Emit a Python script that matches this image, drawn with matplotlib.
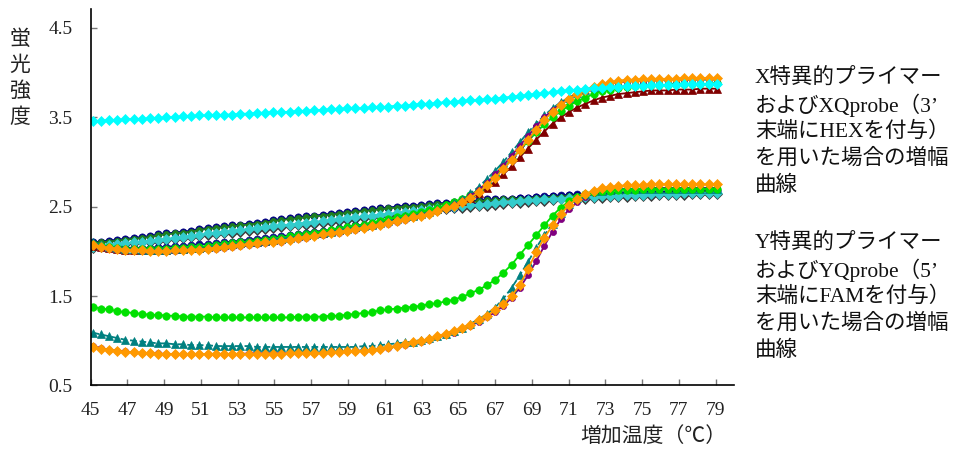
import numpy as np
import matplotlib
matplotlib.use("Agg")
import matplotlib.pyplot as plt

plt.rcParams['font.family'] = ['Liberation Serif', 'Noto Sans CJK JP', 'DejaVu Sans']

# temperature grid (77 readings)
temps = np.round(45.10 + 0.447 * np.arange(77), 2)

# ---- HEX channel (X probe) ----
hex_orange = [2.07, 2.05, 2.04, 2.03, 2.02, 2.01, 2.01, 2.00, 2.00, 2.00,
              2.01, 2.01, 2.02, 2.02, 2.03, 2.04, 2.05, 2.06, 2.07, 2.08,
              2.09, 2.10, 2.11, 2.12, 2.13, 2.15, 2.16, 2.17, 2.19, 2.20,
              2.22, 2.23, 2.25, 2.26, 2.28, 2.30, 2.32, 2.34, 2.36, 2.38,
              2.40, 2.42, 2.45, 2.48, 2.51, 2.55, 2.60, 2.66, 2.74, 2.82,
              2.92, 3.02, 3.13, 3.25, 3.36, 3.47, 3.56, 3.64, 3.71, 3.76,
              3.80, 3.84, 3.87, 3.89, 3.91, 3.92, 3.92, 3.93, 3.93, 3.93,
              3.93, 3.93, 3.94, 3.94, 3.94, 3.94, 3.94]
hex_teal = [2.10, 2.07, 2.05, 2.04, 2.03, 2.03, 2.02, 2.02, 2.02, 2.02,
            2.03, 2.03, 2.04, 2.04, 2.05, 2.06, 2.07, 2.08, 2.09, 2.10,
            2.11, 2.12, 2.13, 2.14, 2.15, 2.17, 2.18, 2.19, 2.21, 2.22,
            2.24, 2.25, 2.27, 2.28, 2.30, 2.32, 2.34, 2.36, 2.38, 2.40,
            2.42, 2.44, 2.47, 2.50, 2.54, 2.59, 2.65, 2.72, 2.81, 2.90,
            3.00, 3.11, 3.22, 3.33, 3.43, 3.52, 3.60, 3.67, 3.72, 3.77,
            3.81, 3.84, 3.86, 3.88, 3.89, 3.90, 3.90, 3.91, 3.91, 3.91,
            3.91, 3.92, 3.92, 3.92, 3.92, 3.92, 3.92]
hex_purple = [2.06, 2.04, 2.03, 2.02, 2.01, 2.01, 2.00, 2.00, 2.00, 2.00,
              2.00, 2.01, 2.01, 2.02, 2.03, 2.03, 2.04, 2.05, 2.06, 2.07,
              2.08, 2.09, 2.10, 2.11, 2.13, 2.14, 2.15, 2.17, 2.18, 2.20,
              2.21, 2.23, 2.24, 2.26, 2.28, 2.30, 2.31, 2.33, 2.35, 2.38,
              2.40, 2.42, 2.45, 2.48, 2.52, 2.56, 2.62, 2.69, 2.77, 2.86,
              2.96, 3.07, 3.18, 3.29, 3.40, 3.50, 3.58, 3.65, 3.71, 3.76,
              3.80, 3.83, 3.86, 3.88, 3.89, 3.90, 3.91, 3.91, 3.92, 3.92,
              3.92, 3.92, 3.92, 3.93, 3.93, 3.93, 3.93]
hex_lime = [2.08, 2.06, 2.05, 2.04, 2.03, 2.03, 2.03, 2.03, 2.03, 2.03,
            2.04, 2.04, 2.05, 2.05, 2.06, 2.07, 2.08, 2.09, 2.10, 2.11,
            2.12, 2.13, 2.14, 2.15, 2.17, 2.18, 2.19, 2.21, 2.22, 2.24,
            2.25, 2.27, 2.28, 2.30, 2.32, 2.34, 2.36, 2.38, 2.40, 2.42,
            2.44, 2.46, 2.49, 2.52, 2.55, 2.59, 2.63, 2.69, 2.76, 2.84,
            2.93, 3.03, 3.13, 3.23, 3.33, 3.42, 3.50, 3.57, 3.63, 3.68,
            3.72, 3.76, 3.79, 3.81, 3.83, 3.84, 3.85, 3.85, 3.86, 3.86,
            3.86, 3.87, 3.87, 3.87, 3.87, 3.87, 3.88]
hex_darkred = [2.06, 2.05, 2.04, 2.03, 2.02, 2.02, 2.02, 2.02, 2.02, 2.02,
               2.03, 2.03, 2.04, 2.04, 2.05, 2.06, 2.07, 2.08, 2.09, 2.10,
               2.11, 2.12, 2.13, 2.14, 2.16, 2.17, 2.18, 2.20, 2.21, 2.23,
               2.24, 2.26, 2.27, 2.29, 2.31, 2.33, 2.35, 2.37, 2.39, 2.41,
               2.43, 2.45, 2.47, 2.50, 2.53, 2.56, 2.60, 2.65, 2.71, 2.78,
               2.86, 2.95, 3.05, 3.15, 3.25, 3.34, 3.43, 3.50, 3.56, 3.61,
               3.65, 3.69, 3.72, 3.74, 3.76, 3.77, 3.78, 3.79, 3.80, 3.80,
               3.80, 3.81, 3.81, 3.81, 3.82, 3.82, 3.82]
hex_cyan = [3.46, 3.46, 3.47, 3.47, 3.48, 3.48, 3.48, 3.49, 3.49, 3.50,
            3.50, 3.51, 3.51, 3.52, 3.52, 3.52, 3.53, 3.53, 3.54, 3.54,
            3.55, 3.55, 3.56, 3.56, 3.56, 3.57, 3.57, 3.58, 3.58, 3.59,
            3.59, 3.60, 3.60, 3.60, 3.61, 3.61, 3.62, 3.63, 3.63, 3.64,
            3.65, 3.65, 3.66, 3.67, 3.67, 3.68, 3.69, 3.69, 3.70, 3.71,
            3.72, 3.73, 3.74, 3.75, 3.76, 3.77, 3.78, 3.79, 3.80, 3.81,
            3.82, 3.83, 3.83, 3.84, 3.84, 3.85, 3.85, 3.85, 3.86, 3.86,
            3.86, 3.86, 3.87, 3.87, 3.87, 3.87, 3.87]

# ---- FAM channel (Y probe) ----
fam_navy = [2.10, 2.11, 2.12, 2.13, 2.14, 2.15, 2.16, 2.17, 2.19, 2.20,
            2.21, 2.22, 2.23, 2.25, 2.26, 2.27, 2.28, 2.29, 2.30, 2.31,
            2.32, 2.33, 2.35, 2.36, 2.37, 2.38, 2.39, 2.40, 2.41, 2.42,
            2.43, 2.44, 2.45, 2.46, 2.47, 2.48, 2.49, 2.50, 2.51, 2.51,
            2.52, 2.53, 2.54, 2.54, 2.55, 2.56, 2.56, 2.57, 2.58, 2.58,
            2.59, 2.59, 2.60, 2.60, 2.61, 2.61, 2.62, 2.62, 2.63, 2.63,
            2.63, 2.64, 2.64, 2.64, 2.65, 2.65, 2.65, 2.66, 2.66, 2.66,
            2.66, 2.67, 2.67, 2.67, 2.67, 2.68, 2.68]
fam_dgreen = [2.09, 2.10, 2.11, 2.12, 2.13, 2.14, 2.15, 2.16, 2.18, 2.19,
              2.20, 2.21, 2.22, 2.24, 2.25, 2.26, 2.27, 2.28, 2.29, 2.30,
              2.31, 2.32, 2.34, 2.35, 2.36, 2.37, 2.38, 2.39, 2.40, 2.41,
              2.42, 2.43, 2.44, 2.45, 2.46, 2.47, 2.48, 2.49, 2.50, 2.50,
              2.51, 2.52, 2.53, 2.53, 2.54, 2.55, 2.55, 2.56, 2.57, 2.57,
              2.58, 2.58, 2.59, 2.59, 2.60, 2.60, 2.61, 2.61, 2.62, 2.62,
              2.62, 2.63, 2.63, 2.63, 2.64, 2.64, 2.64, 2.65, 2.65, 2.65,
              2.65, 2.66, 2.66, 2.66, 2.66, 2.67, 2.67]
fam_mturq = [2.05, 2.06, 2.07, 2.08, 2.09, 2.10, 2.11, 2.12, 2.13, 2.14,
             2.15, 2.16, 2.17, 2.18, 2.20, 2.21, 2.22, 2.23, 2.24, 2.25,
             2.26, 2.27, 2.28, 2.29, 2.30, 2.31, 2.32, 2.33, 2.34, 2.35,
             2.36, 2.37, 2.38, 2.39, 2.40, 2.41, 2.42, 2.43, 2.44, 2.45,
             2.46, 2.47, 2.48, 2.49, 2.50, 2.51, 2.52, 2.52, 2.53, 2.54,
             2.55, 2.55, 2.56, 2.57, 2.57, 2.58, 2.59, 2.59, 2.60, 2.60,
             2.61, 2.61, 2.62, 2.62, 2.62, 2.63, 2.63, 2.63, 2.64, 2.64,
             2.64, 2.64, 2.65, 2.65, 2.65, 2.65, 2.65]
fam_dgray = [2.04, 2.05, 2.06, 2.07, 2.08, 2.09, 2.10, 2.11, 2.12, 2.13,
             2.14, 2.15, 2.16, 2.17, 2.18, 2.19, 2.20, 2.21, 2.22, 2.23,
             2.24, 2.25, 2.26, 2.27, 2.28, 2.29, 2.30, 2.31, 2.32, 2.33,
             2.34, 2.35, 2.36, 2.37, 2.38, 2.39, 2.40, 2.41, 2.42, 2.43,
             2.44, 2.45, 2.46, 2.47, 2.48, 2.49, 2.50, 2.51, 2.51, 2.52,
             2.53, 2.54, 2.54, 2.55, 2.56, 2.56, 2.57, 2.58, 2.58, 2.59,
             2.59, 2.60, 2.60, 2.61, 2.61, 2.61, 2.62, 2.62, 2.62, 2.63,
             2.63, 2.63, 2.63, 2.64, 2.64, 2.64, 2.64]
fam_blue2 = [2.06, 2.05, 2.05, 2.04, 2.04, 2.04, 2.04, 2.04, 2.05, 2.05,
             2.06, 2.06, 2.07, 2.08, 2.08, 2.09, 2.10, 2.11, 2.12, 2.13,
             2.14, 2.15, 2.16, 2.17, 2.18, 2.19, 2.21, 2.22, 2.23, 2.24,
             2.26, 2.27, 2.29, 2.30, 2.32, 2.33, 2.35, 2.36, 2.38, 2.40,
             2.41, 2.43, 2.45, 2.47, 2.49, 2.51, 2.53, 2.54, 2.56, 2.57,
             2.58, 2.59, 2.60, 2.60, 2.61, 2.62, 2.62, 2.63, 2.63, 2.64,
             2.64, 2.65, 2.65, 2.65, 2.66, 2.66, 2.66, 2.67, 2.67, 2.67,
             2.67, 2.68, 2.68, 2.68, 2.68, 2.69, 2.69]
fam_lime = [1.38, 1.36, 1.35, 1.33, 1.32, 1.31, 1.30, 1.29, 1.29, 1.28,
            1.28, 1.27, 1.27, 1.27, 1.27, 1.26, 1.26, 1.26, 1.26, 1.26,
            1.26, 1.26, 1.26, 1.26, 1.26, 1.27, 1.27, 1.27, 1.27, 1.28,
            1.28, 1.29, 1.30, 1.31, 1.32, 1.34, 1.35, 1.36, 1.37, 1.38,
            1.39, 1.41, 1.42, 1.44, 1.46, 1.49, 1.53, 1.57, 1.62, 1.68,
            1.76, 1.85, 1.96, 2.07, 2.18, 2.29, 2.40, 2.49, 2.56, 2.61,
            2.64, 2.66, 2.67, 2.68, 2.69, 2.69, 2.69, 2.70, 2.70, 2.70,
            2.70, 2.70, 2.70, 2.70, 2.70, 2.70, 2.70]
fam_teal = [1.09, 1.07, 1.05, 1.03, 1.01, 1.00, 0.99, 0.98, 0.97, 0.97,
            0.96, 0.96, 0.95, 0.95, 0.95, 0.94, 0.94, 0.94, 0.94, 0.94,
            0.93, 0.93, 0.93, 0.93, 0.93, 0.93, 0.93, 0.93, 0.93, 0.93,
            0.93, 0.93, 0.93, 0.94, 0.94, 0.95, 0.96, 0.97, 0.98, 0.99,
            1.01, 1.03, 1.05, 1.08, 1.11, 1.14, 1.19, 1.24, 1.30, 1.37,
            1.47, 1.59, 1.73, 1.88, 2.04, 2.18, 2.31, 2.43, 2.53, 2.60,
            2.64, 2.67, 2.68, 2.69, 2.70, 2.70, 2.70, 2.70, 2.70, 2.70,
            2.70, 2.70, 2.70, 2.70, 2.70, 2.70, 2.70]
fam_orange = [0.93, 0.91, 0.90, 0.88, 0.87, 0.87, 0.86, 0.86, 0.85, 0.85,
              0.85, 0.85, 0.85, 0.85, 0.85, 0.85, 0.85, 0.85, 0.85, 0.85,
              0.85, 0.85, 0.85, 0.85, 0.86, 0.86, 0.86, 0.86, 0.86, 0.87,
              0.87, 0.88, 0.88, 0.89, 0.90, 0.91, 0.93, 0.94, 0.96, 0.98,
              1.00, 1.02, 1.05, 1.08, 1.11, 1.14, 1.18, 1.23, 1.28, 1.34,
              1.41, 1.50, 1.62, 1.80, 1.99, 2.15, 2.29, 2.42, 2.52, 2.59,
              2.64, 2.68, 2.71, 2.72, 2.73, 2.74, 2.74, 2.74, 2.75, 2.75,
              2.75, 2.75, 2.75, 2.75, 2.75, 2.75, 2.75]
fam_purple = [0.94, 0.92, 0.90, 0.89, 0.88, 0.87, 0.86, 0.86, 0.86, 0.85,
              0.85, 0.85, 0.85, 0.85, 0.85, 0.85, 0.85, 0.85, 0.85, 0.86,
              0.86, 0.86, 0.86, 0.86, 0.86, 0.86, 0.86, 0.86, 0.87, 0.87,
              0.88, 0.88, 0.89, 0.89, 0.90, 0.91, 0.92, 0.94, 0.95, 0.97,
              0.99, 1.01, 1.04, 1.06, 1.09, 1.13, 1.17, 1.21, 1.26, 1.32,
              1.39, 1.48, 1.59, 1.73, 1.89, 2.06, 2.22, 2.36, 2.47, 2.55,
              2.61, 2.65, 2.67, 2.68, 2.69, 2.70, 2.70, 2.70, 2.71, 2.71,
              2.71, 2.71, 2.71, 2.71, 2.71, 2.71, 2.71]

x_ticks = [45, 47, 49, 51, 53, 55, 57, 59, 61, 63, 65, 67, 69, 71, 73, 75, 77, 79]
y_ticks = [0.5, 1.5, 2.5, 3.5, 4.5]

x_label = "増加温度（℃）"
y_label = "蛍光強度"
note_x = ["X特異的プライマー", "およびXQprobe（3’", "末端にHEXを付与）", "を用いた場合の増幅", "曲線"]
note_y = ["Y特異的プライマー", "およびYQprobe（5’", "末端にFAMを付与）", "を用いた場合の増幅", "曲線"]

# (data, color, marker, markersize, linestyle)
series = [
    (fam_dgray, '#3a3a3a', 'D', 5.0, '-'),
    (fam_blue2, '#10108a', 'o', 5.0, '-'),
    (fam_navy, '#000080', 'o', 5.2, '-'),
    (fam_dgreen, '#1e7d1e', 'o', 4.4, '-'),
    (fam_mturq, '#33CCCC', 'D', 5.2, '-'),
    (hex_darkred, '#800000', '^', 6.0, '-'),
    (hex_lime, '#00E000', 'o', 5.4, '-'),
    (hex_teal, '#008080', '^', 5.8, '--'),
    (hex_purple, '#800080', 'o', 4.4, '-'),
    (hex_orange, '#FF9900', 'D', 5.2, '-'),
    (hex_cyan, '#00FFFF', 'D', 5.2, '-'),
    (fam_purple, '#800080', 'o', 4.4, '-'),
    (fam_teal, '#008080', '^', 5.8, '--'),
    (fam_lime, '#00E000', 'o', 5.4, '-'),
    (fam_orange, '#FF9900', 'D', 5.2, '-'),
]

fig = plt.figure(figsize=(9.55, 4.57), dpi=100)
ax = fig.add_axes([0.095, 0.1567, 0.6735, 0.8233])

for data, col, mk, ms, ls in series:
    ax.plot(temps, data, color=col, linestyle=ls, linewidth=1.3,
            marker=mk, markersize=ms, markerfacecolor=col,
            markeredgecolor=col, markeredgewidth=0.5)

ax.set_xlim(45, 80)
ax.set_ylim(0.5, 4.71)
ax.set_xticks(x_ticks)
ax.set_xticklabels([str(v) for v in x_ticks])
ax.set_yticks(y_ticks)
ax.set_yticklabels([f"{v:.1f}" for v in y_ticks])

for s in ['top', 'right']:
    ax.spines[s].set_visible(False)
for s in ['left', 'bottom']:
    ax.spines[s].set_linewidth(1.2)
    ax.spines[s].set_color('black')

ax.tick_params(axis='both', direction='in', length=4, width=1.0,
               color='#777777', labelsize=14, labelcolor='#222222')
ax.tick_params(axis='y', pad=13)
ax.tick_params(axis='x', pad=12)

# stacked vertical y label
ylab_y = [40, 66, 92, 118]
for ch, py in zip(y_label, ylab_y):
    fig.text(20 / 955, 1 - py / 457, ch, ha='center', va='center',
             fontsize=15, color='#222222')

fig.text(653 / 955, 1 - 437 / 457, x_label, ha='center', va='center',
         fontsize=15, color='#222222')

for k, line in enumerate(note_x):
    fig.text(755 / 955, 1 - (78 + 27 * k) / 457, line, ha='left', va='center',
             fontsize=15.5, color='#111111')
for k, line in enumerate(note_y):
    fig.text(755 / 955, 1 - (243 + 27 * k) / 457, line, ha='left', va='center',
             fontsize=15.5, color='#111111')

fig.savefig("out.png", dpi=100)
